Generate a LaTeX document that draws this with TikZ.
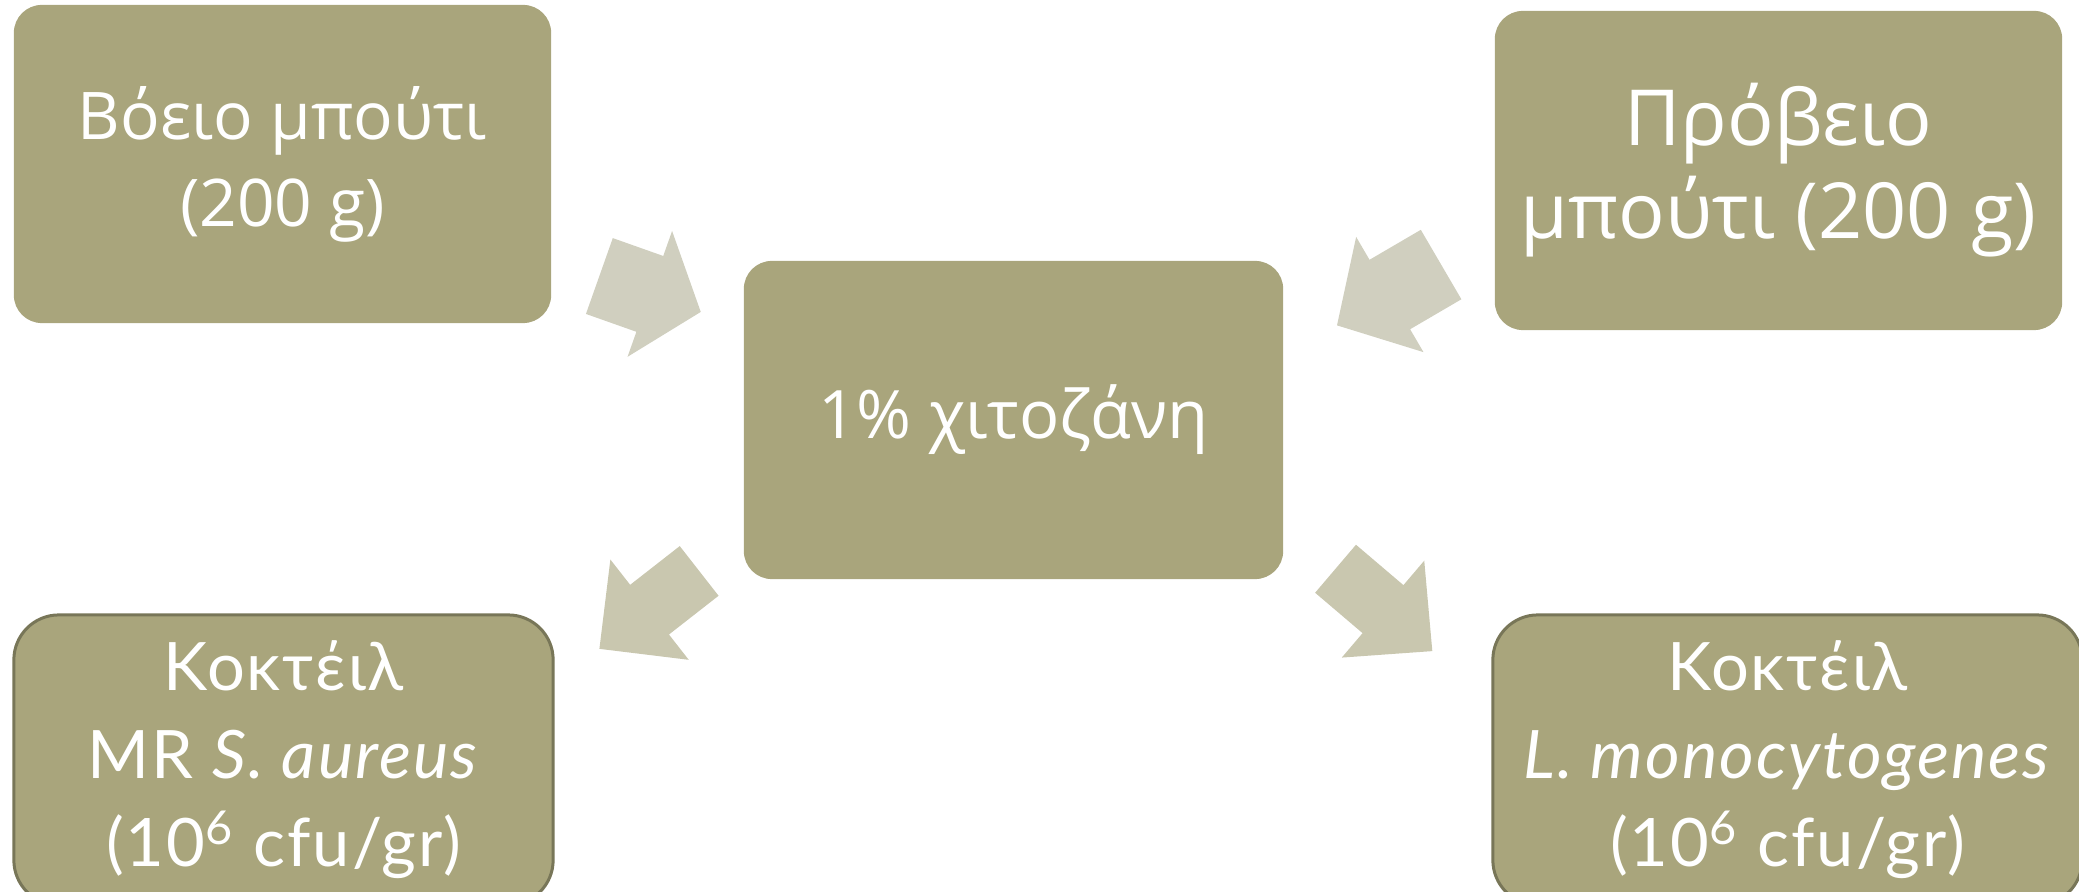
\documentclass[tikz,border=0pt]{standalone}
\usepackage{fontspec}
\setmainfont{Open Sans}
\newfontfamily\gothicfont[LetterSpace=3]{Lato}
\usetikzlibrary{shapes.arrows}
\definecolor{boxfill}{RGB}{169,165,124}
\definecolor{boxline}{RGB}{120,118,88}
\definecolor{arrowtop}{RGB}{208,207,191}
\definecolor{arrowbot}{RGB}{201,199,175}

\begin{document}
\begin{tikzpicture}[x=0.01cm,y=-0.01cm,
    box/.style={fill=boxfill,text=white,align=center,inner sep=0pt,rounded corners=0.28cm},
    cocktail/.style={box,draw=boxline,line width=0.03cm,rounded corners=0.45cm,
      font=\gothicfont\fontsize{19}{25}\selectfont},
    blockarrow/.style={single arrow,anchor=tail,inner xsep=0pt,minimum width=0pt},
    toparrow/.style={blockarrow,fill=arrowtop,inner ysep=0.395cm,single arrow head extend=0.265cm},
    botarrow/.style={blockarrow,fill=arrowbot,inner ysep=0.308cm,single arrow head extend=0.321cm}]
    \useasboundingbox (0,0) rectangle (2079,892);

    \node[box,minimum width=5.37cm,minimum height=3.18cm,font=\fontsize{18.7}{24.7}\selectfont]
      (beef) at (282.5,164) {Βόειο μπούτι\\(200 g)};
    \node[box,minimum width=5.67cm,minimum height=3.19cm,font=\fontsize{22}{26.5}\selectfont]
      (lamb) at (1778.5,170.5) {Πρόβειο\\μπούτι (200 g)};
    \node[box,minimum width=5.39cm,minimum height=3.18cm,font=\fontsize{19}{24}\selectfont]
      (chito) at (1013.5,420) {1\% χιτοζάνη};
    \node[cocktail,minimum width=5.39cm,minimum height=2.9cm] (saur) at (283.5,760)
      {Κοκτέιλ\\MR \textit{S. aureus}\\(10\textsuperscript{6} cfu/gr)};
    \node[cocktail,minimum width=5.89cm,minimum height=2.9cm] (lmono) at (1787.5,760)
      {Κοκτέιλ\\\textit{L. monocytogenes}\\(10\textsuperscript{6} cfu/gr)};

    \node[toparrow,rotate=-19.5,minimum height=1.075cm,single arrow tip angle=102] (a1) at (598.7,275.8) {};
    \node[toparrow,rotate=210.3,minimum height=1.205cm,single arrow tip angle=95] (a2) at (1441.7,264.2) {};
    \node[botarrow,rotate=218,minimum height=1.265cm,single arrow tip angle=90] (a3) at (699.7,570.5) {};
    \node[botarrow,rotate=-40.4,minimum height=1.27cm,single arrow tip angle=89] (a4) at (1335,568.3) {};

  \end{tikzpicture}
\end{document}
